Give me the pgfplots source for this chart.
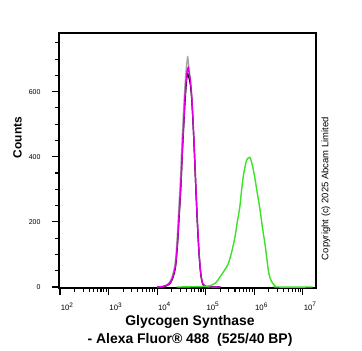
\documentclass[border=0pt]{standalone}
\usepackage{pgfplots}
\pgfplotsset{compat=1.18}
\usepackage{fontspec}
\setmainfont{Liberation Sans}
\definecolor{cmag}{RGB}{225,0,225}
\definecolor{cgrn}{RGB}{60,225,40}
\definecolor{cgry}{RGB}{165,165,165}
\newcommand{\tl}[1]{10\raisebox{3.6bp}{\fontsize{6.5}{6.5}\selectfont #1}}
\begin{document}
\begin{tikzpicture}
\begin{axis}[
  scale only axis,
  width=257bp, height=255bp,
  xmin=1.98, xmax=7.27,
  ymin=-3, ymax=780,
  axis line style={line width=1.1pt},
  tick align=outside,
  xtick pos=bottom, ytick pos=left,
  xtick={2,3,4,5,6,7},
  xticklabels={\tl{2},\tl{3},\tl{4},\tl{5},\tl{6},\tl{7}},
  minor xtick={2.301,2.477,2.602,2.699,2.778,2.845,2.903,2.954,
               3.301,3.477,3.602,3.699,3.778,3.845,3.903,3.954,
               4.301,4.477,4.602,4.699,4.778,4.845,4.903,4.954,
               5.301,5.477,5.602,5.699,5.778,5.845,5.903,5.954,
               6.301,6.477,6.602,6.699,6.778,6.845,6.903,6.954},
  ytick={0,200,400,600},
  minor ytick={50,100,150,250,300,350,450,500,550,650,700,750},
  major tick length=7bp, minor tick length=4bp,
  every tick/.style={black, line width=1.1pt},
  /pgf/number format/assume math mode=true,
  yticklabel style={font=\fontsize{7}{8}\selectfont, xshift=-8bp},
  xticklabel style={font=\fontsize{7.8}{8}\selectfont, xshift=7bp, yshift=-4bp},
  ylabel={Counts},
  ylabel style={font=\fontsize{12}{14}\selectfont\bfseries, at={(rel axis cs:0,0.59)}, anchor=south, yshift=37bp, inner sep=0pt},
  xlabel={Glycogen Synthase\\- Alexa Fluor® 488\ \ (525/40 BP)},
  xlabel style={font=\fontsize{14}{18}\selectfont\bfseries, at={(rel axis cs:0.5,0)}, anchor=north, yshift=-27bp, xshift=2.5bp, inner sep=0pt, align=center},
  clip=true,
]
% grey
\addplot[cgry, line width=1.4pt, smooth] coordinates {
(4.00,0) (4.10,1) (4.18,5) (4.25,14) (4.31,32) (4.37,72) (4.41,145) (4.44,225) (4.48,335) (4.51,440)
(4.54,530) (4.57,610) (4.60,670) (4.62,700) (4.63,707) (4.65,680) (4.68,640) (4.71,590) (4.74,505)
(4.77,405) (4.80,295) (4.83,195) (4.86,112) (4.89,52) (4.92,20) (4.95,7) (5.00,2) (5.10,0) (5.30,0)};
% black
\addplot[black, line width=1.2pt, smooth] coordinates {
(4.00,0) (4.10,1) (4.18,3) (4.26,10) (4.32,26) (4.38,62) (4.42,130) (4.45,205) (4.49,310) (4.52,410)
(4.55,500) (4.58,580) (4.61,640) (4.63,655) (4.65,645) (4.68,625) (4.71,580) (4.74,500)
(4.77,400) (4.80,290) (4.83,190) (4.86,108) (4.89,50) (4.92,19) (4.95,6) (5.00,2) (5.10,0) (5.30,0)};
% magenta
\addplot[cmag, line width=1.4pt, smooth] coordinates {
(4.00,0) (4.10,1) (4.18,4) (4.26,12) (4.32,30) (4.38,70) (4.42,140) (4.45,217) (4.49,320) (4.52,423)
(4.55,510) (4.57,576) (4.60,640) (4.62,665) (4.64,674) (4.66,655) (4.68,640) (4.71,590) (4.74,510)
(4.77,410) (4.80,300) (4.83,200) (4.86,115) (4.89,55) (4.92,22) (4.95,8) (5.00,2) (5.10,0) (5.30,0)};
% green
\addplot[cgrn, line width=1.4pt, smooth] coordinates {
(4.40,0) (4.80,1) (5.00,2) (5.09,4) (5.20,12) (5.29,30) (5.38,50) (5.46,70) (5.53,105) (5.60,152)
(5.65,200) (5.70,244) (5.74,300) (5.77,336) (5.81,370) (5.85,392) (5.91,398) (5.95,380) (5.98,360)
(6.01,336) (6.06,290) (6.12,235) (6.17,180) (6.22,132) (6.26,85) (6.29,50) (6.33,25) (6.39,9)
(6.43,3) (6.47,0) (7.20,0)};
\coordinate (sw) at (rel axis cs:0,0);
\coordinate (ne) at (rel axis cs:1,1);
\coordinate (cr) at (rel axis cs:1,0.39);
\end{axis}
\node[rotate=90, font=\fontsize{9.5}{10}\selectfont, inner sep=0pt] at ([xshift=10bp]cr) {Copyright (c) 2025 Abcam Limited};
\pgfresetboundingbox
\path ([shift={(-59bp,-63bp)}]sw) rectangle ([shift={(46bp,33bp)}]ne);
\end{tikzpicture}
\end{document}
